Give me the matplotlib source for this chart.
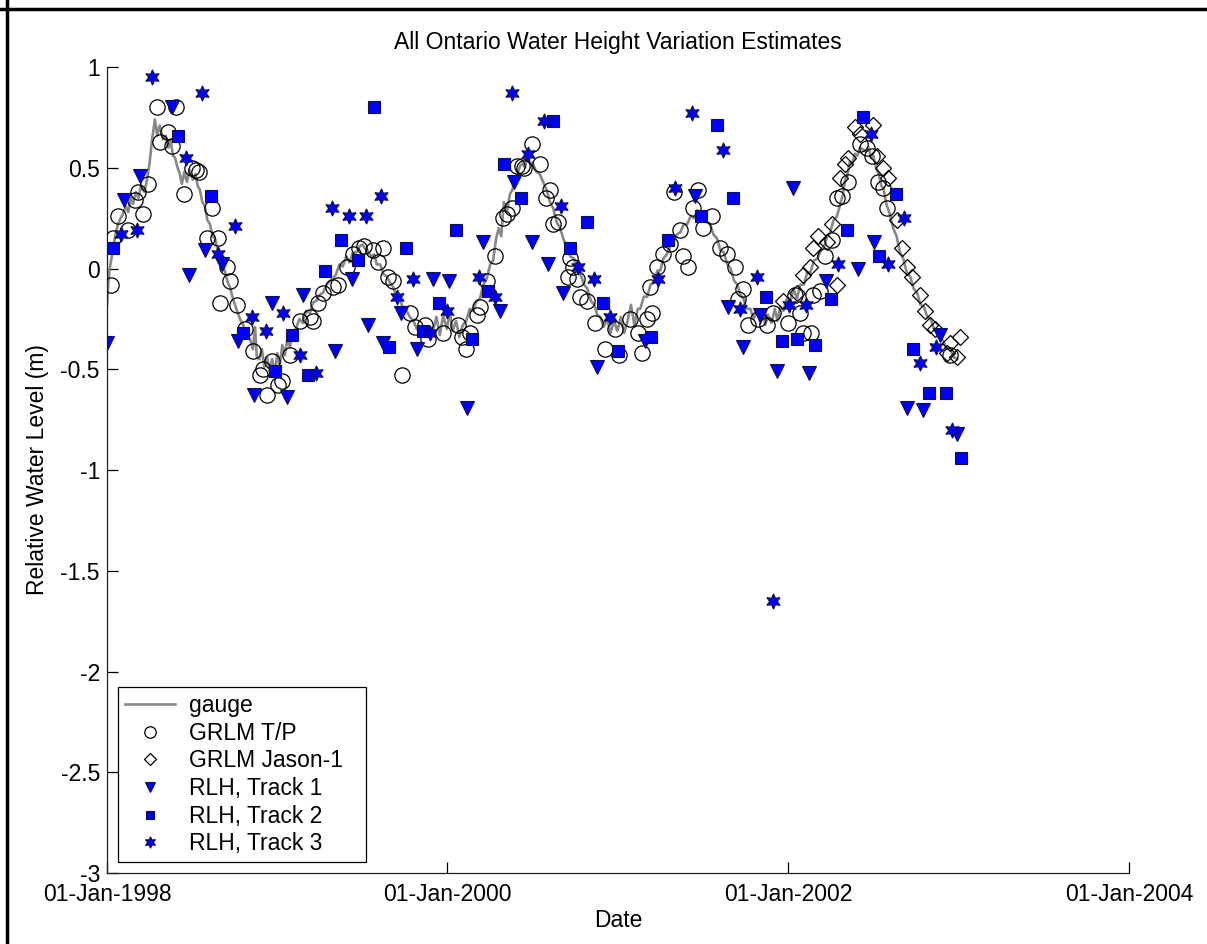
from datetime import datetime

import matplotlib
matplotlib.use('Agg')
import matplotlib.pyplot as plt
import matplotlib.dates as mdates
from matplotlib.lines import Line2D

# lake gauge record (decimal year, metres)
gauge_year = [
    1998.000, 1998.010, 1998.020, 1998.035, 1998.050, 1998.065, 1998.080, 1998.094,
    1998.110, 1998.125, 1998.140, 1998.153, 1998.170, 1998.185, 1998.200, 1998.220,
    1998.235, 1998.250, 1998.265, 1998.282, 1998.295, 1998.310, 1998.329, 1998.345,
    1998.360, 1998.375, 1998.388, 1998.400, 1998.415, 1998.428, 1998.440, 1998.455,
    1998.470, 1998.485, 1998.505, 1998.520, 1998.533, 1998.546, 1998.560, 1998.575,
    1998.590, 1998.605, 1998.620, 1998.635, 1998.650, 1998.664, 1998.680, 1998.695,
    1998.710, 1998.722, 1998.740, 1998.760, 1998.781, 1998.800, 1998.820, 1998.840,
    1998.857, 1998.870, 1998.880, 1998.895, 1998.910, 1998.925, 1998.940, 1998.955,
    1998.970, 1998.987, 1999.000, 1999.015, 1999.030, 1999.045, 1999.060, 1999.075,
    1999.092, 1999.110, 1999.130, 1999.150, 1999.170, 1999.192, 1999.210, 1999.230,
    1999.250, 1999.270, 1999.290, 1999.310, 1999.327, 1999.345, 1999.365, 1999.385,
    1999.405, 1999.425, 1999.444, 1999.465, 1999.485, 1999.500, 1999.515, 1999.530,
    1999.550, 1999.570, 1999.585, 1999.605, 1999.625, 1999.645, 1999.662, 1999.680,
    1999.700, 1999.720, 1999.740, 1999.760, 1999.779, 1999.800, 1999.820, 1999.840,
    1999.860, 1999.880, 1999.897, 1999.915, 1999.935, 1999.955, 1999.975, 1999.996,
    2000.015, 2000.030, 2000.050, 2000.070, 2000.090, 2000.110, 2000.130, 2000.150,
    2000.170, 2000.190, 2000.210, 2000.230, 2000.250, 2000.267, 2000.285, 2000.300,
    2000.315, 2000.330, 2000.350, 2000.366, 2000.380, 2000.395, 2000.408, 2000.425,
    2000.440, 2000.455, 2000.466, 2000.480, 2000.500, 2000.520, 2000.540, 2000.560,
    2000.580, 2000.600, 2000.619, 2000.640, 2000.660, 2000.678, 2000.700, 2000.720,
    2000.740, 2000.760, 2000.780, 2000.800, 2000.819, 2000.840, 2000.860, 2000.877,
    2000.895, 2000.915, 2000.935, 2000.955, 2000.975, 2000.995, 2001.015, 2001.035,
    2001.055, 2001.075, 2001.095, 2001.115, 2001.130, 2001.150, 2001.170, 2001.190,
    2001.210, 2001.230, 2001.247, 2001.265, 2001.285, 2001.305, 2001.325, 2001.345,
    2001.365, 2001.385, 2001.405, 2001.425, 2001.445, 2001.465, 2001.482, 2001.500,
    2001.520, 2001.540, 2001.558, 2001.580, 2001.600, 2001.620, 2001.641, 2001.660,
    2001.680, 2001.700, 2001.717, 2001.735, 2001.755, 2001.776, 2001.795, 2001.815,
    2001.835, 2001.850, 2001.864, 2001.880, 2001.900, 2001.920, 2001.935, 2001.952,
    2001.970, 2001.990, 2002.010, 2002.030, 2002.050, 2002.069, 2002.090, 2002.110,
    2002.128, 2002.150, 2002.170, 2002.190, 2002.210, 2002.228, 2002.245, 2002.265,
    2002.285, 2002.304, 2002.320, 2002.335, 2002.345, 2002.360, 2002.375, 2002.390,
    2002.404, 2002.420, 2002.439, 2002.455, 2002.470, 2002.485, 2002.498, 2002.515,
    2002.530, 2002.545, 2002.557, 2002.575, 2002.595, 2002.615, 2002.635, 2002.655,
    2002.674, 2002.695, 2002.715, 2002.735, 2002.756, 2002.775, 2002.795, 2002.815,
    2002.835, 2002.855, 2002.875, 2002.891, 2002.910, 2002.930, 2002.950, 2002.970,
    2002.991,
]
gauge_level = [
    -0.19, -0.05, 0.02, 0.09, 0.17, 0.22, 0.25, 0.27,
    0.31, 0.28, 0.35, 0.32, 0.38, 0.35, 0.41, 0.38,
    0.44, 0.52, 0.64, 0.74, 0.66, 0.71, 0.64, 0.66,
    0.60, 0.63, 0.56, 0.55, 0.50, 0.47, 0.42, 0.48,
    0.43, 0.49, 0.44, 0.47, 0.41, 0.39, 0.33, 0.31,
    0.24, 0.22, 0.16, 0.15, 0.09, 0.08, 0.02, -0.02,
    -0.07, -0.09, -0.15, -0.20, -0.25, -0.28, -0.34, -0.35,
    -0.40, -0.29, -0.44, -0.45, -0.40, -0.49, -0.44, -0.51,
    -0.45, -0.52, -0.42, -0.48, -0.38, -0.43, -0.35, -0.39,
    -0.31, -0.30, -0.25, -0.27, -0.21, -0.22, -0.17, -0.16,
    -0.13, -0.12, -0.08, -0.06, -0.05, -0.03, 0.02, 0.01,
    0.06, 0.03, 0.08, 0.08, 0.11, 0.12, 0.10, 0.09,
    0.06, 0.07, 0.02, 0.02, -0.03, -0.04, -0.07, -0.09,
    -0.14, -0.15, -0.20, -0.21, -0.24, -0.26, -0.30, -0.29,
    -0.32, -0.30, -0.34, -0.31, -0.24, -0.33, -0.23, -0.30,
    -0.22, -0.31, -0.26, -0.34, -0.28, -0.26, -0.20, -0.21,
    -0.16, -0.15, -0.08, -0.05, 0.02, 0.04, 0.15, 0.20,
    0.16, 0.33, 0.29, 0.37, 0.39, 0.45, 0.46, 0.51,
    0.52, 0.50, 0.56, 0.53, 0.52, 0.48, 0.47, 0.43,
    0.39, 0.33, 0.30, 0.23, 0.20, 0.15, 0.10, 0.06,
    0.05, 0.00, -0.03, -0.08, -0.10, -0.16, -0.18, -0.23,
    -0.24, -0.29, -0.25, -0.32, -0.26, -0.31, -0.24, -0.32,
    -0.26, -0.18, -0.28, -0.20, -0.20, -0.14, -0.14, -0.08,
    -0.07, -0.01, -0.01, 0.05, 0.07, 0.11, 0.13, 0.17,
    0.18, 0.22, 0.22, 0.26, 0.25, 0.29, 0.26, 0.26,
    0.23, 0.22, 0.17, 0.15, 0.09, 0.08, 0.02, 0.00,
    -0.06, -0.08, -0.13, -0.15, -0.20, -0.20, -0.25, -0.21,
    -0.27, -0.22, -0.28, -0.23, -0.27, -0.20, -0.26, -0.19,
    -0.21, -0.15, -0.17, -0.10, -0.15, -0.08, -0.08, -0.02,
    -0.02, 0.04, 0.05, 0.09, 0.11, 0.16, 0.18, 0.24,
    0.26, 0.32, 0.37, 0.45, 0.46, 0.53, 0.52, 0.57,
    0.56, 0.60, 0.59, 0.58, 0.60, 0.55, 0.56, 0.50,
    0.47, 0.41, 0.40, 0.32, 0.27, 0.20, 0.16, 0.08,
    0.05, -0.02, -0.04, -0.10, -0.12, -0.18, -0.19, -0.24,
    -0.25, -0.30, -0.31, -0.35, -0.36, -0.40, -0.40, -0.44,
    -0.45,
]

# GRLM Topex/Poseidon
tp_year = [
    1998.023, 1998.035, 1998.065, 1998.123, 1998.164, 1998.182, 1998.211, 1998.241,
    1998.294, 1998.311, 1998.358, 1998.382, 1998.405, 1998.452, 1998.499, 1998.523,
    1998.540, 1998.587, 1998.617, 1998.652, 1998.705, 1998.722, 1998.664, 1998.763,
    1998.810, 1998.857, 1998.898, 1998.916, 1998.940, 1998.969, 1999.004, 1999.028,
    1999.075, 1999.133, 1999.192, 1999.210, 1999.239, 1999.268, 1999.327, 1999.356,
    1999.409, 1999.444, 1999.480, 1999.509, 1999.562, 1999.591, 1999.621, 1999.650,
    1999.680, 1999.732, 1999.779, 1999.809, 1999.867, 1999.885, 1999.973, 2000.061,
    2000.085, 2000.108, 2000.132, 2000.173, 2000.190, 2000.231, 2000.278, 2000.325,
    2000.349, 2000.378, 2000.408, 2000.437, 2000.449, 2000.496, 2000.543, 2000.578,
    2000.601, 2000.619, 2000.648, 2000.707, 2000.719, 2000.736, 2000.760, 2000.777,
    2000.819, 2000.866, 2000.924, 2000.983, 2001.006, 2001.071, 2001.118, 2001.141,
    2001.171, 2001.188, 2001.200, 2001.230, 2001.265, 2001.306, 2001.329, 2001.365,
    2001.382, 2001.412, 2001.441, 2001.470, 2001.500, 2001.553, 2001.600, 2001.641,
    2001.688, 2001.705, 2001.735, 2001.764, 2001.823, 2001.876, 2001.911, 2001.999,
    2002.040, 2002.069, 2002.087, 2002.134, 2002.146, 2002.187, 2002.216, 2002.257,
    2002.287, 2002.316, 2002.351, 2002.422, 2002.463, 2002.492, 2002.527, 2002.557,
    2002.580, 2002.950,
]
tp_level = [
    -0.08, 0.15, 0.26, 0.19, 0.34, 0.38, 0.27, 0.42,
    0.80, 0.63, 0.68, 0.61, 0.80, 0.37, 0.50, 0.49,
    0.48, 0.15, 0.30, 0.15, 0.01, -0.06, -0.17, -0.18,
    -0.30, -0.41, -0.53, -0.50, -0.63, -0.46, -0.58, -0.56,
    -0.43, -0.26, -0.24, -0.26, -0.17, -0.12, -0.09, -0.08,
    0.01, 0.07, 0.10, 0.11, 0.09, 0.03, 0.10, -0.04,
    -0.06, -0.53, -0.22, -0.29, -0.28, -0.35, -0.32, -0.28,
    -0.34, -0.40, -0.32, -0.23, -0.19, -0.06, 0.06, 0.25,
    0.27, 0.30, 0.51, 0.51, 0.50, 0.62, 0.52, 0.35,
    0.39, 0.22, 0.23, -0.04, 0.05, 0.01, -0.05, -0.14,
    -0.16, -0.27, -0.40, -0.30, -0.43, -0.25, -0.32, -0.42,
    -0.25, -0.09, -0.22, 0.01, 0.07, 0.12, 0.38, 0.19,
    0.06, 0.01, 0.30, 0.39, 0.20, 0.26, 0.10, 0.07,
    0.01, -0.15, -0.10, -0.28, -0.25, -0.28, -0.22, -0.27,
    -0.13, -0.22, -0.32, -0.32, -0.13, -0.11, 0.06, 0.14,
    0.35, 0.36, 0.43, 0.62, 0.60, 0.56, 0.43, 0.40,
    0.30, -0.43,
]

# GRLM Jason-1
jason_year = [
    2001.970, 2002.052, 2002.087, 2002.128, 2002.146, 2002.175, 2002.228, 2002.257,
    2002.287, 2002.304, 2002.334, 2002.351, 2002.392, 2002.422, 2002.498, 2002.521,
    2002.557, 2002.586, 2002.639, 2002.668, 2002.698, 2002.727, 2002.774, 2002.803,
    2002.833, 2002.862, 2002.933, 2002.950, 2002.991, 2003.009,
]
jason_level = [
    -0.16, -0.12, -0.03, 0.01, 0.10, 0.16, 0.13, 0.22,
    -0.08, 0.45, 0.52, 0.55, 0.70, 0.67, 0.71, 0.56,
    0.50, 0.45, 0.24, 0.10, 0.01, -0.04, -0.13, -0.21,
    -0.28, -0.30, -0.42, -0.37, -0.44, -0.34,
]

# RLH tracks
track1_year = [
    1998.000, 1998.100, 1998.194, 1998.382, 1998.481, 1998.575, 1998.675, 1998.769,
    1998.863, 1998.969, 1999.057, 1999.151, 1999.339, 1999.439, 1999.533, 1999.621,
    1999.726, 1999.820, 1999.914, 2000.008, 2000.114, 2000.208, 2000.308, 2000.390,
    2000.496, 2000.590, 2000.678, 2000.877, 2001.159, 2001.453, 2001.647, 2001.735,
    2001.834, 2001.934, 2002.028, 2002.122, 2002.222, 2002.410, 2002.504, 2002.698,
    2002.792, 2002.891, 2002.991,
]
track1_level = [
    -0.37, 0.34, 0.46, 0.80, -0.03, 0.09, 0.02, -0.36,
    -0.63, -0.17, -0.64, -0.13, -0.41, -0.05, -0.28, -0.37,
    -0.22, -0.40, -0.05, -0.06, -0.69, 0.13, -0.21, 0.43,
    0.13, 0.02, -0.12, -0.49, -0.36, 0.36, -0.19, -0.39,
    -0.23, -0.51, 0.40, -0.52, -0.06, 0.00, 0.13, -0.69,
    -0.70, -0.33, -0.82,
]

track2_year = [
    1998.035, 1998.417, 1998.611, 1998.799, 1998.987, 1999.086, 1999.180, 1999.280,
    1999.374, 1999.474, 1999.568, 1999.656, 1999.756, 1999.855, 1999.950, 2000.049,
    2000.143, 2000.237, 2000.331, 2000.431, 2000.619, 2000.719, 2000.819, 2000.913,
    2001.001, 2001.194, 2001.294, 2001.488, 2001.582, 2001.676, 2001.870, 2001.964,
    2002.052, 2002.157, 2002.251, 2002.345, 2002.439, 2002.533, 2002.633, 2002.733,
    2002.827, 2002.927, 2003.015,
]
track2_level = [
    0.10, 0.66, 0.36, -0.32, -0.51, -0.33, -0.53, -0.01,
    0.14, 0.04, 0.80, -0.39, 0.10, -0.31, -0.17, 0.19,
    -0.35, -0.11, 0.52, 0.35, 0.73, 0.10, 0.23, -0.17,
    -0.41, -0.34, 0.14, 0.26, 0.71, 0.35, -0.14, -0.36,
    -0.35, -0.38, -0.15, 0.19, 0.75, 0.06, 0.37, -0.40,
    -0.62, -0.62, -0.94,
]

track3_year = [
    1998.082, 1998.176, 1998.264, 1998.464, 1998.558, 1998.652, 1998.752, 1998.851,
    1998.934, 1999.033, 1999.133, 1999.227, 1999.321, 1999.421, 1999.521, 1999.609,
    1999.703, 1999.797, 1999.897, 1999.996, 2000.185, 2000.278, 2000.378, 2000.472,
    2000.566, 2000.666, 2000.766, 2000.860, 2000.953, 2001.235, 2001.335, 2001.435,
    2001.617, 2001.717, 2001.817, 2001.911, 2002.005, 2002.105, 2002.292, 2002.486,
    2002.586, 2002.680, 2002.774, 2002.868, 2002.962,
]
track3_level = [
    0.17, 0.19, 0.95, 0.55, 0.87, 0.07, 0.21, -0.24,
    -0.31, -0.22, -0.43, -0.52, 0.30, 0.26, 0.26, 0.36,
    -0.14, -0.05, -0.32, -0.21, -0.04, -0.14, 0.87, 0.57,
    0.73, 0.31, 0.01, -0.05, -0.24, -0.05, 0.40, 0.77,
    0.59, -0.20, -0.04, -1.65, -0.18, -0.18, 0.02, 0.67,
    0.02, 0.25, -0.47, -0.39, -0.80,
]


def to_dates(years):
    out = []
    for y in years:
        yr = int(y)
        start = datetime(yr, 1, 1)
        end = datetime(yr + 1, 1, 1)
        out.append(start + (y - yr) * (end - start))
    return out


plt.rcParams['font.family'] = ['Liberation Sans', 'DejaVu Sans']
FS = 16.5

fig = plt.figure(figsize=(12.07, 9.44), dpi=100)
ax = fig.add_axes([0.0886, 0.0752, 0.8468, 0.8538])

blue = '#0000ff'
ax.plot(to_dates(gauge_year), gauge_level, color='#888888', lw=1.9, label='gauge', zorder=2)
ax.plot(to_dates(tp_year), tp_level, ls='none', marker='o', ms=11, mfc='none',
        mec='black', mew=0.9, label='GRLM T/P', zorder=3)
ax.plot(to_dates(jason_year), jason_level, ls='none', marker='D', ms=8.5, mfc='none',
        mec='black', mew=0.9, label='GRLM Jason-1', zorder=3)
ax.plot(to_dates(track1_year), track1_level, ls='none', marker='v', ms=9.5, mfc=blue,
        mec='#10104a', mew=0.8, label='RLH, Track 1', zorder=4)
ax.plot(to_dates(track2_year), track2_level, ls='none', marker='s', ms=8.5, mfc=blue,
        mec='#10104a', mew=0.8, label='RLH, Track 2', zorder=4)
ax.plot(to_dates(track3_year), track3_level, ls='none', marker=(6, 1, 0), ms=11, mfc=blue,
        mec='#10104a', mew=0.8, label='RLH, Track 3', zorder=4)

ax.set_xlim(datetime(1998, 1, 1), datetime(2004, 1, 1))
ax.set_ylim(-3, 1)
ax.set_xticks([datetime(1998, 1, 1), datetime(2000, 1, 1), datetime(2002, 1, 1), datetime(2004, 1, 1)])
ax.xaxis.set_major_formatter(mdates.DateFormatter('%d-%b-%Y'))
ax.set_yticks([-3, -2.5, -2, -1.5, -1, -0.5, 0, 0.5, 1])
ax.set_yticklabels(['-3', '-2.5', '-2', '-1.5', '-1', '-0.5', '0', '0.5', '1'])

ax.tick_params(direction='in', length=8, width=0.9, labelsize=FS, colors='black')
ax.tick_params(axis='x', pad=7.5)
ax.tick_params(axis='y', pad=5)
for side in ['top', 'right']:
    ax.spines[side].set_visible(False)
for side in ['left', 'bottom']:
    ax.spines[side].set_linewidth(0.9)
    ax.spines[side].set_color('#202020')

ax.set_title('All Ontario Water Height Variation Estimates', fontsize=FS, pad=13)
ax.set_xlabel('Date', fontsize=FS, labelpad=2)
ax.set_ylabel('Relative Water Level (m)', fontsize=FS, labelpad=8)

# legend box stretched to a fixed width in the lower-left corner
leg = ax.legend(loc='lower left', bbox_to_anchor=(0.0108, 0.0136, 0.2427, 0.2),
                mode='expand', borderaxespad=0, fontsize=FS, frameon=True,
                fancybox=False, edgecolor='black', framealpha=1, markerscale=0.75,
                handlelength=2.2, labelspacing=0.2, borderpad=0.3,
                handletextpad=0.6)
leg.get_frame().set_linewidth(0.9)

# outer frame lines on the top and left edges
fig.add_artist(Line2D([0, 1], [0.9905, 0.9905], transform=fig.transFigure, color='black', lw=2.5))
fig.add_artist(Line2D([0.0058, 0.0058], [0, 1], transform=fig.transFigure, color='black', lw=2.5))

fig.savefig('out.png', dpi=100)
